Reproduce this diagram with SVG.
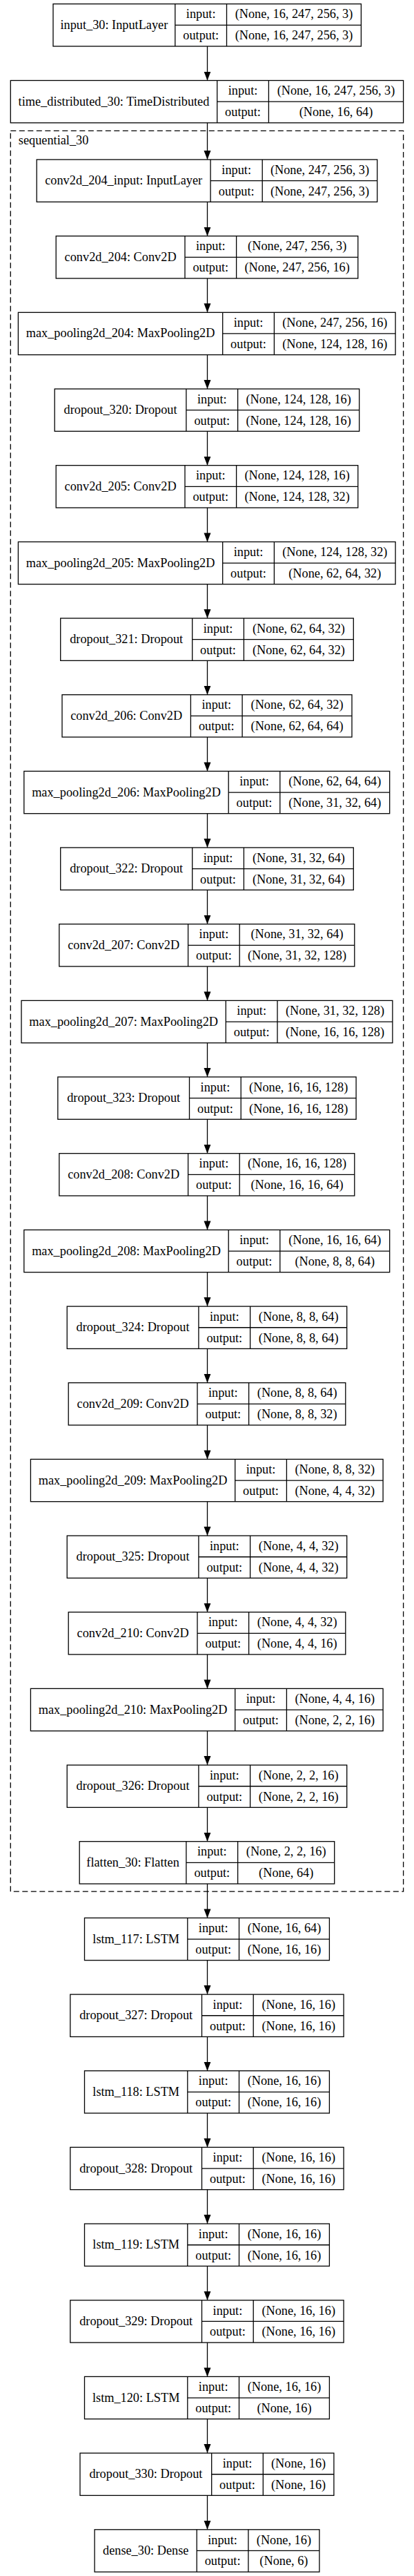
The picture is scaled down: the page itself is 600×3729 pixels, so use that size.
<svg xmlns="http://www.w3.org/2000/svg" width="600" height="3729" viewBox="0 0 600 3729">
<style>
.b{fill:none;stroke:#000;stroke-width:1.3}
text{font-family:"Liberation Serif","Times New Roman",serif;font-size:18.3px;fill:#000;text-anchor:middle}
.e{fill:none;stroke:#000;stroke-width:1.3}
</style>
<defs>
<marker id="ah" markerUnits="userSpaceOnUse" markerWidth="14" markerHeight="11" refX="13" refY="5" orient="auto" viewBox="0 0 14 11">
<path d="M0,0 L13,5 L0,10 z" fill="#000"/>
</marker>
</defs>
<rect width="600" height="3729" fill="#fff"/>
<g id="cluster_sequential_30">
<rect x="15.3" y="189.3" width="569.3" height="2548.9" fill="none" stroke="#000" stroke-width="1.3" stroke-dasharray="8,4.5"/>
<text x="26.8" y="209.3" style="text-anchor:start">sequential_30</text>
</g>
<g id="edges">
<path class="e" marker-end="url(#ah)" d="M300.5,67 V116.5"/>
<path class="e" marker-end="url(#ah)" d="M300.5,177.8 V231"/>
<path class="e" marker-end="url(#ah)" d="M300.5,292.3 V341.7"/>
<path class="e" marker-end="url(#ah)" d="M300.5,403 V452.3"/>
<path class="e" marker-end="url(#ah)" d="M300.5,513.6 V563"/>
<path class="e" marker-end="url(#ah)" d="M300.5,624.3 V673.7"/>
<path class="e" marker-end="url(#ah)" d="M300.5,735 V784.4"/>
<path class="e" marker-end="url(#ah)" d="M300.5,845.7 V895"/>
<path class="e" marker-end="url(#ah)" d="M300.5,956.3 V1005.7"/>
<path class="e" marker-end="url(#ah)" d="M300.5,1067 V1116.4"/>
<path class="e" marker-end="url(#ah)" d="M300.5,1177.7 V1227"/>
<path class="e" marker-end="url(#ah)" d="M300.5,1288.3 V1337.7"/>
<path class="e" marker-end="url(#ah)" d="M300.5,1399 V1448.4"/>
<path class="e" marker-end="url(#ah)" d="M300.5,1509.7 V1559"/>
<path class="e" marker-end="url(#ah)" d="M300.5,1620.3 V1669.7"/>
<path class="e" marker-end="url(#ah)" d="M300.5,1731 V1780.4"/>
<path class="e" marker-end="url(#ah)" d="M300.5,1841.7 V1891.1"/>
<path class="e" marker-end="url(#ah)" d="M300.5,1952.4 V2001.7"/>
<path class="e" marker-end="url(#ah)" d="M300.5,2063 V2112.4"/>
<path class="e" marker-end="url(#ah)" d="M300.5,2173.7 V2223.1"/>
<path class="e" marker-end="url(#ah)" d="M300.5,2284.4 V2333.7"/>
<path class="e" marker-end="url(#ah)" d="M300.5,2395 V2444.4"/>
<path class="e" marker-end="url(#ah)" d="M300.5,2505.7 V2555.1"/>
<path class="e" marker-end="url(#ah)" d="M300.5,2616.4 V2665.7"/>
<path class="e" marker-end="url(#ah)" d="M300.5,2727 V2776.4"/>
<path class="e" marker-end="url(#ah)" d="M300.5,2837.7 V2887.1"/>
<path class="e" marker-end="url(#ah)" d="M300.5,2948.4 V2997.7"/>
<path class="e" marker-end="url(#ah)" d="M300.5,3059 V3108.4"/>
<path class="e" marker-end="url(#ah)" d="M300.5,3169.7 V3219.1"/>
<path class="e" marker-end="url(#ah)" d="M300.5,3280.4 V3329.8"/>
<path class="e" marker-end="url(#ah)" d="M300.5,3391.1 V3440.4"/>
<path class="e" marker-end="url(#ah)" d="M300.5,3501.7 V3551.1"/>
<path class="e" marker-end="url(#ah)" d="M300.5,3612.4 V3661.8"/>
</g>

<g id="input_30" transform="translate(0,5.7)">
<rect class="b" x="77" y="0" width="446.4" height="61.3" fill="#fff"/>
<path class="b" d="M253.8,0 V61.3 M328.5,0 V61.3 M253.8,30.65 H523.4"/>
<text x="165.4" y="36.2">input_30: InputLayer</text>
<text x="291.2" y="20.8">input:</text><text x="291.2" y="51.5">output:</text>
<text x="426" y="20.8">(None, 16, 247, 256, 3)</text><text x="426" y="51.5">(None, 16, 247, 256, 3)</text>
</g>

<g id="time_distributed_30" transform="translate(0,116.5)">
<rect class="b" x="15.3" y="0" width="569.3" height="61.3"/>
<path class="b" d="M314.7,0 V61.3 M389.4,0 V61.3 M314.7,30.65 H584.6"/>
<text x="165" y="36.2">time_distributed_30: TimeDistributed</text>
<text x="352" y="20.8">input:</text><text x="352" y="51.5">output:</text>
<text x="487" y="20.8">(None, 16, 247, 256, 3)</text><text x="487" y="51.5">(None, 16, 64)</text>
</g>

<g id="conv2d_204_input" transform="translate(0,231)">
<rect class="b" x="53.2" y="0" width="493.5" height="61.3"/>
<path class="b" d="M305.1,0 V61.3 M380.2,0 V61.3 M305.1,30.65 H546.7"/>
<text x="179.2" y="36.2">conv2d_204_input: InputLayer</text>
<text x="342.7" y="20.8">input:</text><text x="342.7" y="51.5">output:</text>
<text x="463.5" y="20.8">(None, 247, 256, 3)</text><text x="463.5" y="51.5">(None, 247, 256, 3)</text>
</g>

<g id="conv2d_204" transform="translate(0,341.7)">
<rect class="b" x="81.2" y="0" width="437.6" height="61.3"/>
<path class="b" d="M268,0 V61.3 M342.6,0 V61.3 M268,30.65 H518.8"/>
<text x="174.6" y="36.2">conv2d_204: Conv2D</text>
<text x="305.3" y="20.8">input:</text><text x="305.3" y="51.5">output:</text>
<text x="430.7" y="20.8">(None, 247, 256, 3)</text><text x="430.7" y="51.5">(None, 247, 256, 16)</text>
</g>

<g id="max_pooling2d_204" transform="translate(0,452.3)">
<rect class="b" x="26.4" y="0" width="546.7" height="61.3"/>
<path class="b" d="M322.7,0 V61.3 M397.4,0 V61.3 M322.7,30.65 H573.1"/>
<text x="174.6" y="36.2">max_pooling2d_204: MaxPooling2D</text>
<text x="360" y="20.8">input:</text><text x="360" y="51.5">output:</text>
<text x="485.3" y="20.8">(None, 247, 256, 16)</text><text x="485.3" y="51.5">(None, 124, 128, 16)</text>
</g>

<g id="dropout_320" transform="translate(0,563)">
<rect class="b" x="79.2" y="0" width="441.5" height="61.3"/>
<path class="b" d="M269.9,0 V61.3 M344.6,0 V61.3 M269.9,30.65 H520.7"/>
<text x="174.6" y="36.2">dropout_320: Dropout</text>
<text x="307.3" y="20.8">input:</text><text x="307.3" y="51.5">output:</text>
<text x="432.7" y="20.8">(None, 124, 128, 16)</text><text x="432.7" y="51.5">(None, 124, 128, 16)</text>
</g>

<g id="conv2d_205" transform="translate(0,673.7)">
<rect class="b" x="81.2" y="0" width="437.6" height="61.3"/>
<path class="b" d="M268,0 V61.3 M342.6,0 V61.3 M268,30.65 H518.8"/>
<text x="174.6" y="36.2">conv2d_205: Conv2D</text>
<text x="305.3" y="20.8">input:</text><text x="305.3" y="51.5">output:</text>
<text x="430.7" y="20.8">(None, 124, 128, 16)</text><text x="430.7" y="51.5">(None, 124, 128, 32)</text>
</g>

<g id="max_pooling2d_205" transform="translate(0,784.4)">
<rect class="b" x="26.4" y="0" width="546.7" height="61.3"/>
<path class="b" d="M322.7,0 V61.3 M397.4,0 V61.3 M322.7,30.65 H573.1"/>
<text x="174.6" y="36.2">max_pooling2d_205: MaxPooling2D</text>
<text x="360" y="20.8">input:</text><text x="360" y="51.5">output:</text>
<text x="485.3" y="20.8">(None, 124, 128, 32)</text><text x="485.3" y="51.5">(None, 62, 64, 32)</text>
</g>

<g id="dropout_321" transform="translate(0,895)">
<rect class="b" x="87.7" y="0" width="424.6" height="61.3"/>
<path class="b" d="M278.7,0 V61.3 M353.4,0 V61.3 M278.7,30.65 H512.3"/>
<text x="183.2" y="36.2">dropout_321: Dropout</text>
<text x="316" y="20.8">input:</text><text x="316" y="51.5">output:</text>
<text x="432.9" y="20.8">(None, 62, 64, 32)</text><text x="432.9" y="51.5">(None, 62, 64, 32)</text>
</g>

<g id="conv2d_206" transform="translate(0,1005.7)">
<rect class="b" x="90" y="0" width="420" height="61.3"/>
<path class="b" d="M276.4,0 V61.3 M351.1,0 V61.3 M276.4,30.65 H510"/>
<text x="183.2" y="36.2">conv2d_206: Conv2D</text>
<text x="313.8" y="20.8">input:</text><text x="313.8" y="51.5">output:</text>
<text x="430.6" y="20.8">(None, 62, 64, 32)</text><text x="430.6" y="51.5">(None, 62, 64, 64)</text>
</g>

<g id="max_pooling2d_206" transform="translate(0,1116.4)">
<rect class="b" x="34.8" y="0" width="529.9" height="61.3"/>
<path class="b" d="M331.2,0 V61.3 M405.8,0 V61.3 M331.2,30.65 H564.7"/>
<text x="183" y="36.2">max_pooling2d_206: MaxPooling2D</text>
<text x="368.5" y="20.8">input:</text><text x="368.5" y="51.5">output:</text>
<text x="485.3" y="20.8">(None, 62, 64, 64)</text><text x="485.3" y="51.5">(None, 31, 32, 64)</text>
</g>

<g id="dropout_322" transform="translate(0,1227)">
<rect class="b" x="87.7" y="0" width="424.6" height="61.3"/>
<path class="b" d="M278.7,0 V61.3 M353.4,0 V61.3 M278.7,30.65 H512.3"/>
<text x="183.2" y="36.2">dropout_322: Dropout</text>
<text x="316" y="20.8">input:</text><text x="316" y="51.5">output:</text>
<text x="432.9" y="20.8">(None, 31, 32, 64)</text><text x="432.9" y="51.5">(None, 31, 32, 64)</text>
</g>

<g id="conv2d_207" transform="translate(0,1337.7)">
<rect class="b" x="85.8" y="0" width="428" height="61.3"/>
<path class="b" d="M272.6,0 V61.3 M347.2,0 V61.3 M272.6,30.65 H513.8"/>
<text x="179.2" y="36.2">conv2d_207: Conv2D</text>
<text x="309.9" y="20.8">input:</text><text x="309.9" y="51.5">output:</text>
<text x="430.5" y="20.8">(None, 31, 32, 64)</text><text x="430.5" y="51.5">(None, 31, 32, 128)</text>
</g>

<g id="max_pooling2d_207" transform="translate(0,1448.4)">
<rect class="b" x="31" y="0" width="537.9" height="61.3"/>
<path class="b" d="M327.3,0 V61.3 M402,0 V61.3 M327.3,30.65 H568.9"/>
<text x="179.2" y="36.2">max_pooling2d_207: MaxPooling2D</text>
<text x="364.7" y="20.8">input:</text><text x="364.7" y="51.5">output:</text>
<text x="485.5" y="20.8">(None, 31, 32, 128)</text><text x="485.5" y="51.5">(None, 16, 16, 128)</text>
</g>

<g id="dropout_323" transform="translate(0,1559)">
<rect class="b" x="83.8" y="0" width="432.3" height="61.3"/>
<path class="b" d="M274.5,0 V61.3 M349.2,0 V61.3 M274.5,30.65 H516.1"/>
<text x="179.2" y="36.2">dropout_323: Dropout</text>
<text x="311.9" y="20.8">input:</text><text x="311.9" y="51.5">output:</text>
<text x="432.7" y="20.8">(None, 16, 16, 128)</text><text x="432.7" y="51.5">(None, 16, 16, 128)</text>
</g>

<g id="conv2d_208" transform="translate(0,1669.7)">
<rect class="b" x="85.8" y="0" width="428" height="61.3"/>
<path class="b" d="M272.6,0 V61.3 M347.2,0 V61.3 M272.6,30.65 H513.8"/>
<text x="179.2" y="36.2">conv2d_208: Conv2D</text>
<text x="309.9" y="20.8">input:</text><text x="309.9" y="51.5">output:</text>
<text x="430.5" y="20.8">(None, 16, 16, 128)</text><text x="430.5" y="51.5">(None, 16, 16, 64)</text>
</g>

<g id="max_pooling2d_208" transform="translate(0,1780.4)">
<rect class="b" x="34.8" y="0" width="529.9" height="61.3"/>
<path class="b" d="M331.2,0 V61.3 M405.8,0 V61.3 M331.2,30.65 H564.7"/>
<text x="183" y="36.2">max_pooling2d_208: MaxPooling2D</text>
<text x="368.5" y="20.8">input:</text><text x="368.5" y="51.5">output:</text>
<text x="485.3" y="20.8">(None, 16, 16, 64)</text><text x="485.3" y="51.5">(None, 8, 8, 64)</text>
</g>

<g id="dropout_324" transform="translate(0,1891.1)">
<rect class="b" x="97.2" y="0" width="405.5" height="61.3"/>
<path class="b" d="M287.9,0 V61.3 M362.6,0 V61.3 M287.9,30.65 H502.7"/>
<text x="192.6" y="36.2">dropout_324: Dropout</text>
<text x="325.3" y="20.8">input:</text><text x="325.3" y="51.5">output:</text>
<text x="432.7" y="20.8">(None, 8, 8, 64)</text><text x="432.7" y="51.5">(None, 8, 8, 64)</text>
</g>

<g id="conv2d_209" transform="translate(0,2001.7)">
<rect class="b" x="99.2" y="0" width="401.6" height="61.3"/>
<path class="b" d="M286,0 V61.3 M360.6,0 V61.3 M286,30.65 H500.8"/>
<text x="192.6" y="36.2">conv2d_209: Conv2D</text>
<text x="323.3" y="20.8">input:</text><text x="323.3" y="51.5">output:</text>
<text x="430.7" y="20.8">(None, 8, 8, 64)</text><text x="430.7" y="51.5">(None, 8, 8, 32)</text>
</g>

<g id="max_pooling2d_209" transform="translate(0,2112.4)">
<rect class="b" x="44.4" y="0" width="510.7" height="61.3"/>
<path class="b" d="M340.7,0 V61.3 M415.4,0 V61.3 M340.7,30.65 H555.1"/>
<text x="192.6" y="36.2">max_pooling2d_209: MaxPooling2D</text>
<text x="378" y="20.8">input:</text><text x="378" y="51.5">output:</text>
<text x="485.3" y="20.8">(None, 8, 8, 32)</text><text x="485.3" y="51.5">(None, 4, 4, 32)</text>
</g>

<g id="dropout_325" transform="translate(0,2223.1)">
<rect class="b" x="97.2" y="0" width="405.5" height="61.3"/>
<path class="b" d="M287.9,0 V61.3 M362.6,0 V61.3 M287.9,30.65 H502.7"/>
<text x="192.6" y="36.2">dropout_325: Dropout</text>
<text x="325.3" y="20.8">input:</text><text x="325.3" y="51.5">output:</text>
<text x="432.7" y="20.8">(None, 4, 4, 32)</text><text x="432.7" y="51.5">(None, 4, 4, 32)</text>
</g>

<g id="conv2d_210" transform="translate(0,2333.7)">
<rect class="b" x="99.2" y="0" width="401.6" height="61.3"/>
<path class="b" d="M286,0 V61.3 M360.6,0 V61.3 M286,30.65 H500.8"/>
<text x="192.6" y="36.2">conv2d_210: Conv2D</text>
<text x="323.3" y="20.8">input:</text><text x="323.3" y="51.5">output:</text>
<text x="430.7" y="20.8">(None, 4, 4, 32)</text><text x="430.7" y="51.5">(None, 4, 4, 16)</text>
</g>

<g id="max_pooling2d_210" transform="translate(0,2444.4)">
<rect class="b" x="44.4" y="0" width="510.7" height="61.3"/>
<path class="b" d="M340.7,0 V61.3 M415.4,0 V61.3 M340.7,30.65 H555.1"/>
<text x="192.6" y="36.2">max_pooling2d_210: MaxPooling2D</text>
<text x="378" y="20.8">input:</text><text x="378" y="51.5">output:</text>
<text x="485.3" y="20.8">(None, 4, 4, 16)</text><text x="485.3" y="51.5">(None, 2, 2, 16)</text>
</g>

<g id="dropout_326" transform="translate(0,2555.1)">
<rect class="b" x="97.2" y="0" width="405.5" height="61.3"/>
<path class="b" d="M287.9,0 V61.3 M362.6,0 V61.3 M287.9,30.65 H502.7"/>
<text x="192.6" y="36.2">dropout_326: Dropout</text>
<text x="325.3" y="20.8">input:</text><text x="325.3" y="51.5">output:</text>
<text x="432.7" y="20.8">(None, 2, 2, 16)</text><text x="432.7" y="51.5">(None, 2, 2, 16)</text>
</g>

<g id="flatten_30" transform="translate(0,2665.7)">
<rect class="b" x="115.2" y="0" width="369.5" height="61.3"/>
<path class="b" d="M269.9,0 V61.3 M344.6,0 V61.3 M269.9,30.65 H484.7"/>
<text x="192.6" y="36.2">flatten_30: Flatten</text>
<text x="307.3" y="20.8">input:</text><text x="307.3" y="51.5">output:</text>
<text x="414.7" y="20.8">(None, 2, 2, 16)</text><text x="414.7" y="51.5">(None, 64)</text>
</g>

<g id="lstm_117" transform="translate(0,2776.4)">
<rect class="b" x="122.5" y="0" width="354.9" height="61.3"/>
<path class="b" d="M271.8,0 V61.3 M346.5,0 V61.3 M271.8,30.65 H477.4"/>
<text x="197.2" y="36.2">lstm_117: LSTM</text>
<text x="309.2" y="20.8">input:</text><text x="309.2" y="51.5">output:</text>
<text x="412" y="20.8">(None, 16, 64)</text><text x="412" y="51.5">(None, 16, 16)</text>
</g>

<g id="dropout_327" transform="translate(0,2887.1)">
<rect class="b" x="101.8" y="0" width="396.3" height="61.3"/>
<path class="b" d="M292.5,0 V61.3 M367.2,0 V61.3 M292.5,30.65 H498.1"/>
<text x="197.2" y="36.2">dropout_327: Dropout</text>
<text x="329.9" y="20.8">input:</text><text x="329.9" y="51.5">output:</text>
<text x="432.7" y="20.8">(None, 16, 16)</text><text x="432.7" y="51.5">(None, 16, 16)</text>
</g>

<g id="lstm_118" transform="translate(0,2997.7)">
<rect class="b" x="122.5" y="0" width="354.9" height="61.3"/>
<path class="b" d="M271.8,0 V61.3 M346.5,0 V61.3 M271.8,30.65 H477.4"/>
<text x="197.2" y="36.2">lstm_118: LSTM</text>
<text x="309.2" y="20.8">input:</text><text x="309.2" y="51.5">output:</text>
<text x="412" y="20.8">(None, 16, 16)</text><text x="412" y="51.5">(None, 16, 16)</text>
</g>

<g id="dropout_328" transform="translate(0,3108.4)">
<rect class="b" x="101.8" y="0" width="396.3" height="61.3"/>
<path class="b" d="M292.5,0 V61.3 M367.2,0 V61.3 M292.5,30.65 H498.1"/>
<text x="197.2" y="36.2">dropout_328: Dropout</text>
<text x="329.9" y="20.8">input:</text><text x="329.9" y="51.5">output:</text>
<text x="432.7" y="20.8">(None, 16, 16)</text><text x="432.7" y="51.5">(None, 16, 16)</text>
</g>

<g id="lstm_119" transform="translate(0,3219.1)">
<rect class="b" x="122.5" y="0" width="354.9" height="61.3"/>
<path class="b" d="M271.8,0 V61.3 M346.5,0 V61.3 M271.8,30.65 H477.4"/>
<text x="197.2" y="36.2">lstm_119: LSTM</text>
<text x="309.2" y="20.8">input:</text><text x="309.2" y="51.5">output:</text>
<text x="412" y="20.8">(None, 16, 16)</text><text x="412" y="51.5">(None, 16, 16)</text>
</g>

<g id="dropout_329" transform="translate(0,3329.8)">
<rect class="b" x="101.8" y="0" width="396.3" height="61.3"/>
<path class="b" d="M292.5,0 V61.3 M367.2,0 V61.3 M292.5,30.65 H498.1"/>
<text x="197.2" y="36.2">dropout_329: Dropout</text>
<text x="329.9" y="20.8">input:</text><text x="329.9" y="51.5">output:</text>
<text x="432.7" y="20.8">(None, 16, 16)</text><text x="432.7" y="51.5">(None, 16, 16)</text>
</g>

<g id="lstm_120" transform="translate(0,3440.4)">
<rect class="b" x="122.5" y="0" width="354.9" height="61.3"/>
<path class="b" d="M271.8,0 V61.3 M346.5,0 V61.3 M271.8,30.65 H477.4"/>
<text x="197.2" y="36.2">lstm_120: LSTM</text>
<text x="309.2" y="20.8">input:</text><text x="309.2" y="51.5">output:</text>
<text x="412" y="20.8">(None, 16, 16)</text><text x="412" y="51.5">(None, 16)</text>
</g>

<g id="dropout_330" transform="translate(0,3551.1)">
<rect class="b" x="116" y="0" width="367.9" height="61.3"/>
<path class="b" d="M306.7,0 V61.3 M381.3,0 V61.3 M306.7,30.65 H483.9"/>
<text x="211.4" y="36.2">dropout_330: Dropout</text>
<text x="344" y="20.8">input:</text><text x="344" y="51.5">output:</text>
<text x="432.6" y="20.8">(None, 16)</text><text x="432.6" y="51.5">(None, 16)</text>
</g>

<g id="dense_30" transform="translate(0,3661.8)">
<rect class="b" x="137.1" y="0" width="325.8" height="61.3"/>
<path class="b" d="M285.2,0 V61.3 M359.9,0 V61.3 M285.2,30.65 H462.9"/>
<text x="211.2" y="36.2">dense_30: Dense</text>
<text x="322.6" y="20.8">input:</text><text x="322.6" y="51.5">output:</text>
<text x="411.4" y="20.8">(None, 16)</text><text x="411.4" y="51.5">(None, 6)</text>
</g>
</svg>
